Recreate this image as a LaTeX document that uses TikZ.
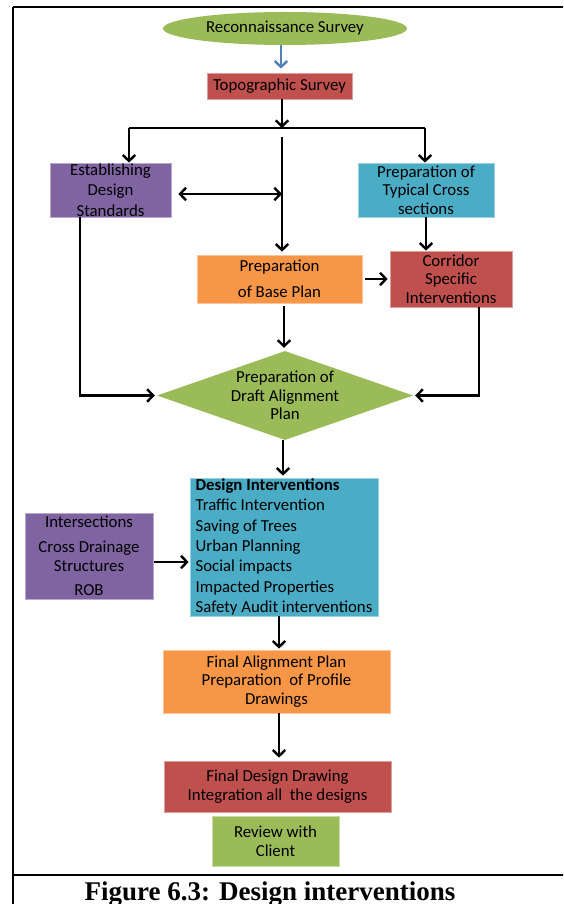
\documentclass[tikz,border=0pt]{standalone}
\usepackage{fontspec}
\setmainfont{Carlito}
\newfontfamily\capfont{Liberation Serif}
\usetikzlibrary{shapes.geometric,arrows.meta,calc}
\definecolor{cgreen}{HTML}{9BBB59}
\definecolor{cred}{HTML}{C0504D}
\definecolor{cpurple}{HTML}{8064A2}
\definecolor{caqua}{HTML}{4BACC6}
\definecolor{corange}{HTML}{F79646}
\definecolor{cblue}{HTML}{4F81BD}
\tikzset{
  box/.style={rectangle, inner sep=0pt, align=center, line width=0.7pt,
    font=\fontsize{16.8}{18.5}\selectfont},
  tip/.tip={Straight Barb[length=6pt,width=12.5pt,line width=2.4pt]},
  conn/.style={line width=2.4pt, black, -tip},
  plainline/.style={line width=2.4pt, black},
}
\begin{document}
\begin{tikzpicture}[x=1pt,y=-1pt]
\useasboundingbox (0,0) rectangle (563,904);
\clip (0,0) rectangle (563,904);
\fill[white] (0,0) rectangle (563,904);
% frame
\draw[line width=2pt] (13,7) -- (600,7);
\draw[line width=2pt] (13,7) -- (13,910);
\draw[line width=2pt] (13,875) -- (600,875);
% nodes
\node[ellipse, fill=cgreen, minimum width=244pt, minimum height=33pt, inner sep=0pt,
  font=\fontsize{16.8}{18.5}\selectfont] (recon) at (285,28.5) {Reconnaissance Survey};
\node[box, fill=cred, draw=cred!55!white, minimum width=145pt, minimum height=26pt] (topo) at (279.5,86) {Topographic Survey};
\node[box, fill=cpurple, draw=cpurple!55!white, minimum width=121pt, minimum height=54pt,
  font=\fontsize{16.8}{20.5}\selectfont] (est) at (110.5,190) {Establishing\\Design\\Standards};
\node[box, fill=caqua, draw=caqua!55!white, minimum width=136pt, minimum height=54pt] (typ) at (426,190) {Preparation of\\Typical Cross\\sections};
\node[box, fill=corange, draw=corange!55!white, minimum width=165pt, minimum height=48pt] (base) at (279.5,279) {Preparation\\[7pt]of Base Plan};
\node[box, fill=cred, draw=cred!55!white, minimum width=122pt, minimum height=56pt] (corr) at (451,279) {Corridor\\Specific\\Interventions};
\node[diamond, fill=cgreen, minimum width=256pt, minimum height=89pt, inner sep=0pt, aspect=2.88, align=center,
  font=\fontsize{16.8}{18.5}\selectfont] (draft) at (285,395.5) {Preparation of\\Draft Alignment\\Plan};
\node[box, fill=caqua, draw=caqua!55!white, minimum width=188pt, minimum height=138pt,
  align=left, font=\fontsize{16.8}{20.4}\selectfont] (design) at (284,547)
  {\textbf{Design Interventions}\\Traffic Intervention\\Saving of Trees\\Urban Planning\\Social impacts\\Impacted Properties\\Safety Audit interventions};
\node[box, fill=cpurple, draw=cpurple!55!white, minimum width=128pt, minimum height=86pt,
  font=\fontsize{16.8}{19}\selectfont] (inter) at (89,556) {Intersections\\[6pt]Cross Drainage\\Structures\\[5pt]ROB};
\node[box, fill=corange, draw=corange!55!white, minimum width=227pt, minimum height=63pt] (final) at (276.5,681.5) {Final Alignment Plan\\Preparation\ \ of Profile\\Drawings};
\node[box, fill=cred, draw=cred!55!white, minimum width=227pt, minimum height=51pt] (fdd) at (277.5,786.5) {Final Design Drawing\\Integration all\ \ the designs};
\node[box, fill=cgreen, draw=cgreen!55!white, minimum width=127pt, minimum height=50pt] (review) at (275.5,841) {Review with\\Client};
% caption
\node[anchor=base, inner sep=0pt, font=\capfont\bfseries\fontsize{27}{30}\selectfont] (cap) at (270,900) {Figure 6.3: Design interventions};
% coordinates
\coordinate (jm) at (282,128);
\coordinate (jl) at (129,128);
\coordinate (jr) at (425,128);
\coordinate (cm) at (282,137);
\coordinate (dbl) at (282,194);
\coordinate (el) at (80,217);
\coordinate (er) at (479,307);
\coordinate (ia) at (154,562);
\coordinate (bd) at (284,0);
\coordinate (dd) at (283,0);
\coordinate (fx) at (279,0);
% connectors
\draw[line width=2.4pt, cblue, -{Straight Barb[length=6pt,width=12.5pt,line width=2.4pt]}, shorten >=4pt] (recon.south -| 281,0) -- (topo.north -| 281,0);
\draw[conn] (jm |- topo.south) -- (jm);
\draw[plainline] (jl) -- (jr);
\draw[conn] (jl) -- (jl |- est.north);
\draw[conn] (jr) -- (jr |- typ.north);
\draw[conn, shorten >=3pt] (cm) -- (cm |- base.north);
\draw[line width=2.4pt, tip-tip, shorten <=7pt] (est.east |- dbl) -- (dbl);
\draw[conn] (typ.south) -- (typ.south |- corr.north);
\draw[conn, shorten <=3pt, shorten >=2pt] (base.east) -- (base.east -| corr.west);
\draw[conn, shorten <=3pt, shorten >=3pt] (bd |- base.south) -- (bd |- draft.north);
\draw[conn, shorten >=2pt] (el) |- (draft.west);
\draw[conn, shorten >=2pt] (er) |- (draft.east);
\draw[conn, shorten >=2pt] (dd |- draft.south) -- (dd |- design.north);
\draw[conn, shorten >=1pt] (ia) -- (ia -| design.west);
\draw[conn, shorten >=1pt] (fx |- design.south) -- (fx |- final.north);
\draw[conn, shorten >=3pt] (fx |- final.south) -- (fx |- fdd.north);
\end{tikzpicture}
\end{document}
